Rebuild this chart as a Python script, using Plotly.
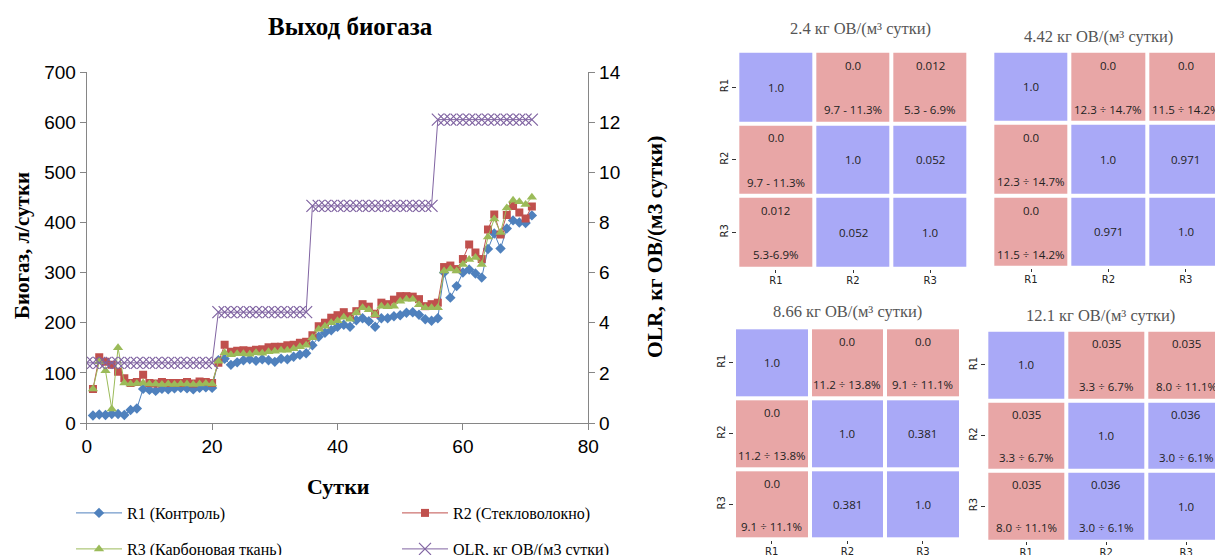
import plotly.graph_objects as go

W, H = 1215, 555

# ---------------- biogas yield data ----------------
days = list(range(1, 72))
r1_control = [15, 17, 16, 18, 18, 16, 26, 29, 68, 66, 64, 68, 67, 69, 70, 69, 67, 70, 71, 70,
              125, 128, 116, 121, 125, 127, 124, 127, 125, 122, 128, 127, 132, 136, 139, 155, 172, 180, 185, 192,
              196, 192, 205, 209, 203, 192, 209, 209, 213, 215, 220, 221, 216, 207, 204, 209, 300, 250, 273, 300,
              306, 298, 290, 347, 378, 348, 388, 404, 400, 399, 414]
r2_glass = [68, 131, 122, 116, 102, 89, 80, 82, 96, 80, 79, 82, 80, 80, 80, 82, 79, 83, 82, 80,
            120, 156, 142, 144, 145, 144, 146, 147, 151, 152, 152, 155, 156, 160, 162, 175, 193, 200, 210, 215,
            221, 213, 223, 237, 232, 218, 240, 237, 246, 253, 253, 252, 247, 233, 237, 240, 311, 314, 307, 327,
            356, 340, 327, 386, 416, 376, 415, 433, 420, 408, 432]
r3_carbon = [68, 122, 104, 28, 150, 80, 78, 79, 80, 78, 78, 77, 78, 77, 78, 78, 77, 78, 79, 78,
             123, 140, 136, 138, 138, 137, 140, 139, 142, 143, 145, 145, 148, 152, 155, 170, 187, 193, 200, 204,
             211, 207, 220, 230, 226, 216, 233, 232, 233, 243, 247, 247, 236, 230, 230, 230, 303, 307, 303, 316,
             326, 330, 316, 371, 407, 380, 429, 444, 441, 436, 450]
olr_days = list(range(0, 72))
olr = [2.4, 2.4, 2.4, 2.4, 2.4, 2.4, 2.4, 2.4, 2.4, 2.4, 2.4, 2.4, 2.4, 2.4, 2.4, 2.4, 2.4, 2.4, 2.4, 2.4, 2.4,
       4.42, 4.42, 4.42, 4.42, 4.42, 4.42, 4.42, 4.42, 4.42, 4.42, 4.42, 4.42, 4.42, 4.42, 4.42,
       8.66, 8.66, 8.66, 8.66, 8.66, 8.66, 8.66, 8.66, 8.66, 8.66, 8.66, 8.66, 8.66, 8.66, 8.66, 8.66, 8.66, 8.66, 8.66, 8.66,
       12.1, 12.1, 12.1, 12.1, 12.1, 12.1, 12.1, 12.1, 12.1, 12.1, 12.1, 12.1, 12.1, 12.1, 12.1, 12.1]

x_ticks = [0, 20, 40, 60, 80]
y_ticks = [0, 100, 200, 300, 400, 500, 600, 700]
y2_ticks = [0, 2, 4, 6, 8, 10, 12, 14]

# ---------------- pairwise comparison matrices ----------------
reactors = ["R1", "R2", "R3"]
panel_titles = ["2.4 кг ОВ/(м³ сутки)", "4.42 кг ОВ/(м³ сутки)",
                "8.66 кг ОВ/(м³ сутки)", "12.1 кг ОВ/(м³ сутки)"]
p_24 = [["1.0", "0.0", "0.012"], ["0.0", "1.0", "0.052"], ["0.012", "0.052", "1.0"]]
d_24 = [["", "9.7 - 11.3%", "5.3 - 6.9%"], ["9.7 - 11.3%", "", ""], ["5.3-6.9%", "", ""]]
s_24 = [[0, 1, 1], [1, 0, 0], [1, 0, 0]]
p_442 = [["1.0", "0.0", "0.0"], ["0.0", "1.0", "0.971"], ["0.0", "0.971", "1.0"]]
d_442 = [["", "12.3 ÷ 14.7%", "11.5 ÷ 14.2%"], ["12.3 ÷ 14.7%", "", ""], ["11.5 ÷ 14.2%", "", ""]]
s_442 = [[0, 1, 1], [1, 0, 0], [1, 0, 0]]
p_866 = [["1.0", "0.0", "0.0"], ["0.0", "1.0", "0.381"], ["0.0", "0.381", "1.0"]]
d_866 = [["", "11.2 ÷ 13.8%", "9.1 ÷ 11.1%"], ["11.2 ÷ 13.8%", "", ""], ["9.1 ÷ 11.1%", "", ""]]
s_866 = [[0, 1, 1], [1, 0, 0], [1, 0, 0]]
p_121 = [["1.0", "0.035", "0.035"], ["0.035", "1.0", "0.036"], ["0.035", "0.036", "1.0"]]
d_121 = [["", "3.3 ÷ 6.7%", "8.0 ÷ 11.1%"], ["3.3 ÷ 6.7%", "", "3.0 ÷ 6.1%"], ["8.0 ÷ 11.1%", "3.0 ÷ 6.1%", ""]]
s_121 = [[0, 1, 1], [1, 0, 0], [1, 0, 0]]

BLUE, RED, GREEN, PURPLE = "#4F81BD", "#C0504D", "#9BBB59", "#8064A2"
CELL_BLUE, CELL_RED = "#A9A9F7", "#E8A6A6"
SERIF = "Liberation Serif"
SANS = "Liberation Sans"
CELL_FONT = dict(family="Open Sans", size=11.5, color="#222222")
TICK_FONT = dict(family="DejaVu Sans", size=10, color="#222")


def px_x(p):
    return p / W


def px_y(p):
    return 1 - p / H


fig = go.Figure()

fig.add_trace(go.Scatter(x=days, y=r1_control, name="R1 (Контроль)", mode="lines+markers",
                         line=dict(color=BLUE, width=1), legend="legend",
                         marker=dict(symbol="diamond", size=8, color=BLUE)))
fig.add_trace(go.Scatter(x=days, y=r2_glass, name="R2 (Стекловолокно)", mode="lines+markers",
                         line=dict(color=RED, width=1), legend="legend",
                         marker=dict(symbol="square", size=8, color=RED)))
fig.add_trace(go.Scatter(x=days, y=r3_carbon, name="R3 (Карбоновая ткань)", mode="lines+markers",
                         line=dict(color=GREEN, width=1), legend="legend2",
                         marker=dict(symbol="triangle-up", size=9, color=GREEN)))
fig.add_trace(go.Scatter(x=olr_days, y=olr, name="OLR, кг ОВ/(м3 сутки)", mode="lines+markers",
                         yaxis="y2", line=dict(color=PURPLE, width=1), legend="legend2",
                         marker=dict(symbol="x-thin-open", size=12, color=PURPLE,
                                     line=dict(color=PURPLE, width=1.2))))

# heatmap panels: axis index, p-values, ranges, flags, pixel box, x range end, row labels, title, title pos
panels = [
    (3, p_24, d_24, s_24, 737.3, 968.7, 50.7, 268.7, 2.5, True, panel_titles[0], 860, 28),
    (4, p_442, d_442, s_442, 992.3, 1215, 50.7, 268.0, 2.377, False, panel_titles[1], 1098, 37),
    (5, p_866, d_866, s_866, 734.0, 960.7, 327.3, 539.7, 2.5, True, panel_titles[2], 847, 311),
    (6, p_121, d_121, s_121, 986.3, 1215, 329.7, 541.3, 2.36, True, panel_titles[3], 1100, 315),
]

annotations = []
for (k, pv, dv, sv, x0, x1, y0, y1, xend, rowlab, title, tx, ty) in panels:
    fig.add_trace(go.Heatmap(z=sv, x=reactors, y=reactors, xaxis=f"x{k}", yaxis=f"y{k}",
                             colorscale=[[0, CELL_BLUE], [1, CELL_RED]], zmin=0, zmax=1,
                             showscale=False, xgap=4, ygap=4, hoverinfo="skip"))
    fig.layout[f"xaxis{k}"] = dict(domain=[px_x(x0), px_x(x1)], anchor=f"y{k}",
                                   range=[-0.5, xend], showgrid=False, zeroline=False,
                                   ticks="outside", ticklen=3, tickcolor="#333",
                                   ticklabelstandoff=-1, tickfont=TICK_FONT,
                                   showline=False, fixedrange=True)
    fig.layout[f"yaxis{k}"] = dict(domain=[px_y(y1), px_y(y0)], anchor=f"x{k}",
                                   range=[2.5, -0.5], showgrid=False, zeroline=False,
                                   ticks="outside" if rowlab else "", ticklen=4, tickcolor="#333",
                                   showticklabels=rowlab, tickangle=-90, tickfont=TICK_FONT,
                                   showline=False, fixedrange=True)
    for i in range(3):
        for j in range(3):
            two = dv[i][j] != ""
            annotations.append(dict(xref=f"x{k}", yref=f"y{k}", x=j, y=i - 0.3 if two else i,
                                    xanchor="center", yanchor="middle",
                                    text=pv[i][j], showarrow=False, font=CELL_FONT))
            if two:
                annotations.append(dict(xref=f"x{k}", yref=f"y{k}", x=j, y=i + 0.31,
                                        xanchor="center", yanchor="middle",
                                        text=dv[i][j], showarrow=False, font=CELL_FONT))
    annotations.append(dict(xref="paper", yref="paper", x=px_x(tx), y=px_y(ty), text=title,
                            xanchor="center", yanchor="middle",
                            showarrow=False, font=dict(family=SERIF, size=16.5, color="#555555")))

# chart titles
annotations += [
    dict(xref="paper", yref="paper", x=px_x(351), y=px_y(27), text="<b>Выход биогаза</b>",
         xanchor="center", yanchor="middle",
         showarrow=False, font=dict(family=SERIF, size=25, color="black")),
    dict(xref="paper", yref="paper", x=px_x(338), y=px_y(486), text="<b>Сутки</b>",
         xanchor="center", yanchor="middle",
         showarrow=False, font=dict(family=SERIF, size=22, color="black")),
    dict(xref="paper", yref="paper", x=px_x(22), y=px_y(246), text="<b>Биогаз, л/сутки</b>",
         xanchor="center", yanchor="middle",
         textangle=-90, showarrow=False, font=dict(family=SERIF, size=21, color="black")),
    dict(xref="paper", yref="paper", x=px_x(655), y=px_y(247), text="<b>OLR, кг ОВ/(м3 сутки)</b>",
         xanchor="center", yanchor="middle",
         textangle=-90, showarrow=False, font=dict(family=SERIF, size=21.5, color="black")),
]

axis_line = "#868686"
legend_style = dict(orientation="h", xanchor="left", yanchor="middle", entrywidth=265,
                    itemwidth=46, font=dict(family=SERIF, size=16, color="black"),
                    bgcolor="rgba(0,0,0,0)", traceorder="normal")
fig.update_layout(
    width=W, height=H, margin=dict(l=0, r=0, t=0, b=0, autoexpand=False),
    paper_bgcolor="white", plot_bgcolor="white",
    xaxis=dict(domain=[px_x(86.7), px_x(588.3)], range=[0, 80], tickvals=x_ticks,
               showgrid=False, zeroline=False, showline=True, linecolor=axis_line, linewidth=1,
               ticks="outside", ticklen=6, tickcolor=axis_line, anchor="y",
               tickfont=dict(family=SANS, size=19, color="black")),
    yaxis=dict(domain=[px_y(423), px_y(72)], range=[0, 700], tickvals=y_ticks,
               showgrid=False, zeroline=False, showline=True, linecolor=axis_line, linewidth=1,
               ticks="outside", ticklen=6, tickcolor=axis_line, anchor="x",
               tickfont=dict(family=SANS, size=19, color="black")),
    yaxis2=dict(overlaying="y", side="right", range=[0, 14], tickvals=y2_ticks, anchor="x",
                showgrid=False, zeroline=False, showline=True, linecolor=axis_line, linewidth=1,
                ticks="outside", ticklen=6, tickcolor=axis_line,
                tickfont=dict(family=SANS, size=19, color="black")),
    legend=dict(x=px_x(71), y=px_y(513), **legend_style),
    legend2=dict(x=px_x(71), y=px_y(549), **legend_style),
    annotations=annotations,
)

fig.write_html("out.html")
